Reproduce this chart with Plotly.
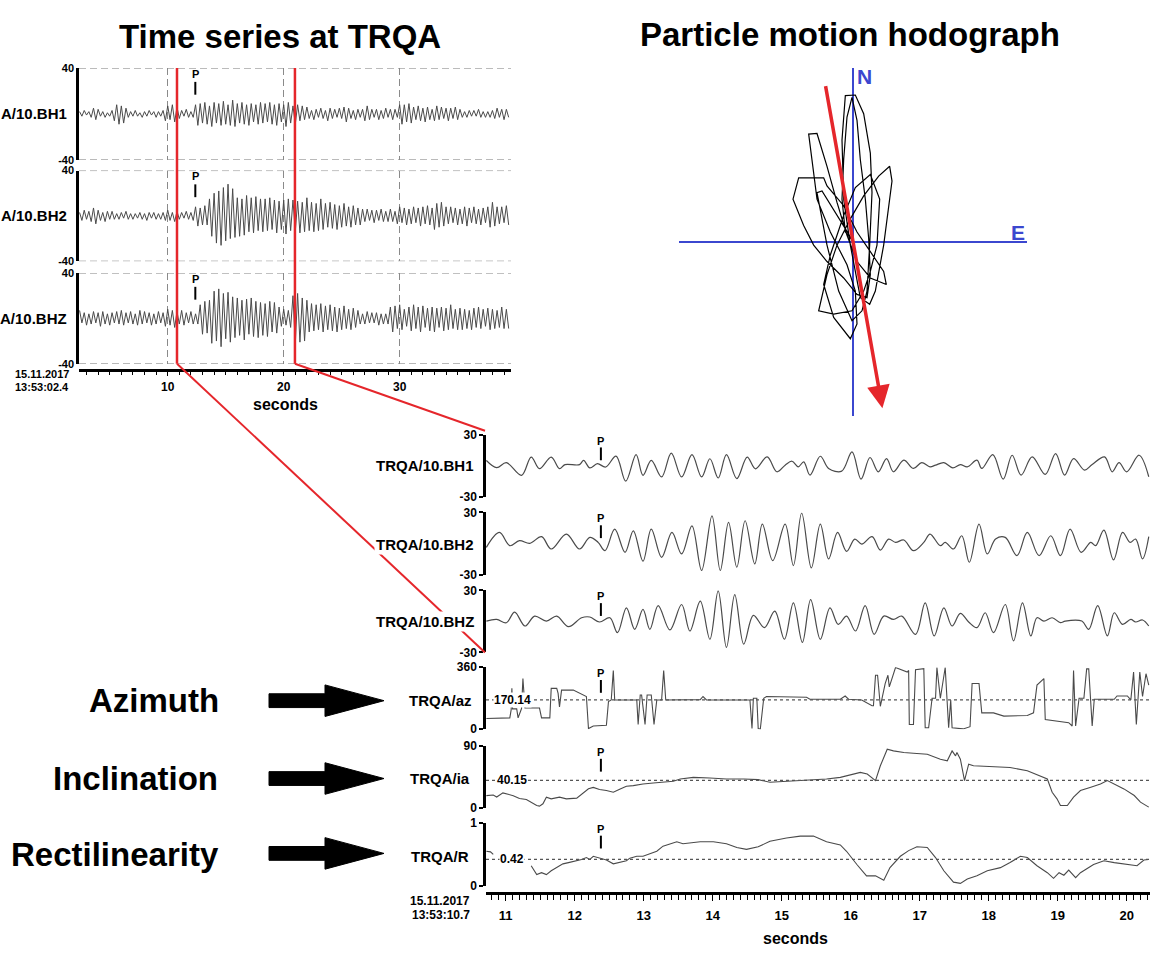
import math
import plotly.graph_objects as go

W, H = 1156, 955
FONT = "Liberation Sans, Arial, Helvetica, sans-serif"
TRACE = "#4a4a4a"
RED = "#e5262b"
BLUE = "#3b47cf"


def fx(x):
    return x / W


def fy(y):
    return 1 - y / H


# ---------------------------------------------------------------- data
P_TIME = 12.38
WINDOW = [10.8, 20.97]          # selected window in the overview (s)
TOP_T0, TOP_DT = 2.4, 0.2       # sampling of the overview traces
TOP_CHANNELS = ["A/10.BH1", "A/10.BH2", "A/10.BHZ"]
LOW_CHANNELS = ["TRQA/10.BH1", "TRQA/10.BH2", "TRQA/10.BHZ"]
ATTR_CHANNELS = ["TRQA/az", "TRQA/ia", "TRQA/R"]

TOP_BH1 = [
    2, -2, 3, -1, 2, -3, 5, -5, 4, -2, 2, -3, 1, -2, 3,
    -6, 8, -9, 7, -8, 5,
    -3, 2, -2, 3, -2, 1, -3, 2, -2, 3, -1, 2, -3, 2, -2, 3,
    -6, 7, -5, 8, -7, 6, -4,
    3, -2, 4, -3, 2, -3,
    8, -10, 9, -8, 10, -9, 7, -11, 10, -8, 9, -10, 11, -9, 8, -10, 12, -11, 9, -8, 10, -9, 8, -10, 9, -7, 8, -9, 10,
    -8, 9, -7, 10, -9, 8, -10, 9, -7, 8, -11, 10, -8, 7, -9, 8, -6, 7, -5, 6,
    -4, 3, -5, 4, -3, 5, -4, 3, -6, 5, -4, 4, -3, 5, -4, 6, -7, 5, -4, 3, -5, 4, -3, 4, -6, 7, -5, 4, -3, 4, -5, 3, -4, 5, -3, 4, -5, 4, -3,
    8, -9, 8, -7, 9, -8,
    6, -5, 7, -6, 5, -7, 6, -5, 4, -6, 7, -5, 6, -4, 5, -6, 5, -4, 6, -5, 4,
    -3, 2, -3, 3, -2, 3, -2, 4, -3, 2, -3, 2, -3, 3,
    -4, 5, -3, 4, -5, 4, -3,
]
TOP_BH2 = [
    3, -4, 5, -3, 4, -5, 7, -7, 5, -4, 3, -5, 4, -3, 4,
    -3, 2, -3, 3, -2, 4, -3, 2, -3, 2, -2, 3, -3, 2, -4, 3, -2, 3, -3, 2, -3, 3,
    -4, 5, -4, 3, -5, 4, -3,
    3, -2, 4, -3, 3, -4,
    8, -9, 7, -8, 9, -8,
    15, -18, 20, -24, 22, -26, 25, -22, 28, -20, 24, -19,
    16, -18, 15, -17, 18, -14, 16, -15, 17, -13, 15,
    -14, 15, -13, 16, -12, 14, -15, 13, -12, 14, -16, 15, -13, 14,
    -14, 13, -15, 12, -14, 16, -13, 12, -14, 11, -13, 15, -12, 11, -10, 12, -11, 10, -12, 9, -10, 11, -9, 8, -10, 9, -8, 7, -8,
    6, -5, 6, -4, 5, -6, 5, -4, 6, -5, 4, -5, 6, -5, 4,
    -7, 8, -6, 7, -8, 6, -7, 8, -6, 7, -9, 8, -7, 9, -8, 7, -12, 11, -10, 12, -9, 8, -7, 8, -6, 7, -8, 6, -7, 8,
    -9, 7, -6, 8, -7, 6, -8, 7, -6, 8, -10, 12, -9, 8, -7, 8, -6, 9, -8,
]
TOP_BHZ = [
    7, -4, 5, -6, 4, -5, 6, -4, 5, -7, 6, -5, 4, -6, 5, -4, 6, -5, 7, -6, 5, -4, 6, -5, 4, -6, 7, -5, 6, -4, 5, -6, 4, -5, 6, -4, 5,
    -7, 8, -6, 7, -8, 6, -5, 7, -6,
    5, -4, 6, -5, 4, -5,
    12, -14, 15, -13, 16,
    -22, 24, -20, 26, -25, 22, -18, 23, -21, 19,
    -17, 18, -15, 16, -19, 17, -14, 18, -16, 15, -17,
    14, -15, 13, -16, 15, -12, 14, -13, 10,
    -7, 8, -6, 7, -8,
    20, -23, 22, -21, 18, -20, 16,
    -12, 13, -11, 12, -10, 13, -12, 11, -10, 12, -11, 10, -12, 9, -10, 11, -9, 8, -10, 9, -8, 7,
    -5, 4, -5, 6, -4, 5, -4, 5, -6, 4, -5, 4, -5,
    10, -12, 11, -9, 12, -10, 8, -7,
    10, -11, 12, -9, 10, -12, 11, -8, 9, -11, 10, -12, 9, -8, 10, -11, 9, -10, 12, -9, 8, -10,
    9, -10, 8, -9, 7, -10, 9, -8, 10, -9, 8, -7, 9, -10, 8, -9, 7, -8, 10, -9, 8, -9,
]

LOW_BH1_T = [10.72, 10.87, 11.01, 11.23, 11.37, 11.49, 11.66, 11.78, 11.86, 12.07, 12.13, 12.22, 12.33, 12.45,
             12.60, 12.74, 12.89, 12.99, 13.11, 13.26, 13.40, 13.55, 13.70, 13.84, 13.96, 14.08, 14.20, 14.35,
             14.50, 14.62, 14.79, 14.93, 15.05, 15.15, 15.24, 15.32, 15.41, 15.56, 15.68, 15.87, 16.02, 16.15,
             16.28, 16.40, 16.52, 16.62, 16.77, 16.91, 17.03, 17.15, 17.23, 17.35, 17.48, 17.59, 17.69, 17.83,
             17.90, 18.06, 18.21, 18.34, 18.47, 18.63, 18.82, 18.97, 19.10, 19.23, 19.39, 19.50, 19.68, 19.79,
             19.89, 20.00, 20.18, 20.32]
LOW_BH1_V = [5.1, -1.9, 2.9, -9.3, 8.3, -2.9, 8.3, -2.9, 1.0, 1.0, 5.1, -2.2, 1.9, -1.3,
             9.3, -15.0, 10.6, -9.3, 5.1, -10.9, 12.2, -10.9, 10.6, -10.9, 6.7, -11.9, 10.6, -12.5,
             8.3, -3.0, 8.5, -5.9, 0.5, 4.3, -1.1, 3.7, -9.1, 9.1, -2.7, -5.3, 13.3, -13.0,
             7.9, -5.9, 6.9, -5.9, 5.3, -2.7, 3.0, -1.1, 0.5, 3.0, -2.1, 1.1, -1.1, 5.3,
             -2.7, 10.7, -13.0, 10.1, -9.1, 8.5, -8.5, 11.7, -9.1, 6.9, -4.3, 1.1, 8.5, -5.9,
             3.0, -5.9, 10.1, -10.7]

LOW_BH2_T = [10.72, 10.91, 11.06, 11.20, 11.35, 11.52, 11.66, 11.88, 12.07, 12.22, 12.34, 12.44, 12.58, 12.73,
             12.85, 12.99, 13.11, 13.26, 13.41, 13.55, 13.70, 13.84, 13.99, 14.11, 14.23, 14.35, 14.47, 14.61,
             14.72, 14.87, 15.05, 15.17, 15.29, 15.43, 15.56, 15.68, 15.81, 15.94, 16.06, 16.16, 16.31, 16.43,
             16.55, 16.65, 16.77, 16.91, 17.06, 17.15, 17.30, 17.37, 17.49, 17.61, 17.72, 17.86, 17.98, 18.10,
             18.24, 18.41, 18.56, 18.73, 18.90, 19.04, 19.18, 19.34, 19.48, 19.55, 19.67, 19.81, 19.94, 20.05,
             20.13, 20.23, 20.32]
LOW_BH2_V = [-3.7, 10.7, -2.1, 2.7, 0.2, 6.6, -5.3, 9.1, -5.3, 5.9, 1.1, -6.9, 13.9, -8.5,
             12.3, -17.1, 13.9, -13.3, 10.7, -10.1, 17.1, -26.1, 26.8, -26.1, 20.4, -22.9, 22.0, -19.7,
             18.8, -16.5, 18.8, -21.3, 29.5, -23.6, 18.8, -14.9, 10.7, -7.5, 4.3, -0.5, 6.6, -6.3,
             4.3, 1.1, 3.4, -6.9, 1.1, 9.1, -2.1, 1.1, -5.3, 7.5, -18.1, 18.8, -10.1, 4.3,
             5.9, -11.7, 10.7, -11.7, 7.5, -11.7, 13.9, -8.5, 1.1, -2.1, 13.0, -15.9, 10.7, 1.1,
             4.3, -14.9, 6.6]

LOW_BHZ_T = [10.72, 10.87, 11.01, 11.13, 11.28, 11.42, 11.59, 11.74, 11.91, 12.10, 12.22, 12.36, 12.51, 12.62,
             12.75, 12.87, 12.99, 13.09, 13.21, 13.38, 13.55, 13.67, 13.82, 13.96, 14.08, 14.20, 14.32, 14.45,
             14.59, 14.75, 14.90, 15.04, 15.17, 15.30, 15.42, 15.56, 15.70, 15.82, 15.94, 16.07, 16.21, 16.34,
             16.48, 16.62, 16.74, 16.94, 17.08, 17.21, 17.35, 17.47, 17.59, 17.71, 17.83, 17.95, 18.07, 18.24,
             18.36, 18.49, 18.61, 18.70, 18.80, 18.92, 19.04, 19.11, 19.35, 19.45, 19.58, 19.72, 19.82, 19.94,
             20.06, 20.13, 20.23, 20.32]
LOW_BHZ_V = [0.3, 1.9, -1.3, 8.9, -4.5, 5.1, 0.3, 5.1, -5.1, 3.5, 4.2, -0.6, 3.5, -10.9,
             13.1, -7.7, 11.5, -7.7, 15.3, -8.3, 16.3, -9.3, 19.5, -17.3, 29.5, -25.2, 25.9, -22.0,
             5.8, -6.0, 9.9, -17.3, 17.9, -20.4, 21.1, -17.3, 13.1, -2.9, 5.1, -9.3, 15.3, -12.5,
             5.1, 1.9, 5.1, -12.5, 17.9, -14.1, 13.1, -4.5, 7.7, -0.6, -6.1, 8.3, -10.9, 16.3,
             -18.8, 17.9, -14.1, 3.5, 0.3, 3.5, -1.3, 0.3, 0.3, -7.7, 15.3, -14.1, 8.3, -2.9,
             1.9, -0.6, 1.3, -4.5]

AZ_T = [10.72, 11.06, 11.08, 11.09, 11.10, 11.16, 11.18, 11.23, 11.25, 11.28, 11.49, 11.52, 11.64, 11.66,
        11.74, 11.76, 11.78, 11.81, 11.98, 12.17, 12.20, 12.27, 12.46, 12.49, 12.53, 12.56, 12.58, 12.90,
        12.92, 12.95, 12.97, 13.02, 13.05, 13.11, 13.15, 13.19, 13.26, 13.29, 13.32, 13.82, 13.86, 13.91,
        14.54, 14.57, 14.59, 14.64, 14.66, 14.69, 14.74, 14.78, 15.36, 15.41, 15.85, 15.92, 15.97, 16.16,
        16.31, 16.33, 16.36, 16.39, 16.43, 16.50, 16.54, 16.56, 16.65, 16.82, 16.84, 16.85, 16.91, 16.94,
        17.06, 17.08, 17.13, 17.18, 17.23, 17.25, 17.30, 17.37, 17.42, 17.45, 17.47, 17.53, 17.63, 17.73,
        17.76, 17.86, 17.90, 18.07, 18.22, 18.56, 18.65, 18.70, 18.80, 18.82, 19.04, 19.16, 19.21, 19.23,
        19.26, 19.31, 19.38, 19.42, 19.45, 19.50, 19.53, 19.82, 19.86, 20.01, 20.06, 20.10, 20.14, 20.19,
        20.23, 20.28, 20.32]
AZ_V = [62, 66, 114, 237, 118, 118, 66, 120, 294, 123, 123, 66, 66, 237,
        237, 208, 130, 227, 227, 190, 4, 19, 23, 161, 170, 341, 170, 170,
        28, 199, 199, 28, 199, 199, 28, 170, 170, 341, 170, 172, 190, 170,
        170, 4, 180, 180, 4, 0, 180, 190, 186, 174, 174, 193, 174, 170,
        136, 136, 313, 313, 133, 265, 313, 246, 358, 332, 341, 28, 28, 345,
        351, 9, 9, 180, 180, 358, 180, 358, 9, 170, 9, 5, 2, 15,
        265, 265, 95, 95, 76, 80, 95, 256, 294, 57, 47, 38, 19, 341,
        19, 180, 180, 350, 350, 19, 174, 174, 193, 193, 170, 332, 28, 332,
        190, 322, 256]

IA_T = [10.72, 10.82, 10.87, 10.96, 11.11, 11.20, 11.30, 11.37, 11.45, 11.49, 11.54, 11.59, 11.66, 11.78,
        11.88, 12.03, 12.10, 12.13, 12.20, 12.27, 12.36, 12.46, 12.56, 12.66, 12.75, 12.85, 12.99, 13.14,
        13.24, 13.43, 13.53, 13.62, 13.72, 13.96, 14.20, 14.45, 14.66, 14.83, 14.98, 15.17, 15.41, 15.65,
        15.85, 15.99, 16.14, 16.24, 16.36, 16.43, 16.53, 16.62, 16.77, 16.91, 17.11, 17.30, 17.40, 17.47,
        17.52, 17.54, 17.59, 17.65, 17.71, 17.78, 18.07, 18.31, 18.56, 18.75, 18.85, 18.92, 18.99, 19.04,
        19.14, 19.23, 19.33, 19.48, 19.62, 19.72, 19.82, 19.96, 20.11, 20.20, 20.32]
IA_V = [18, 19, 16, 22, 18, 14, 12.5, 8.6, 3.8, 2.9, 6.2, 15.8, 13.4, 15.8,
        13.4, 14.4, 20.6, 22.5, 28, 30, 27, 25.4, 23, 27.8, 31.6, 32.6, 35, 36.4,
        37.4, 38.8, 42.2, 43.1, 44.5, 43.6, 42.2, 42.2, 41.2, 37.4, 38.3, 39.8, 41.2, 42.2,
        44.5, 47.9, 51.7, 49.3, 39.8, 61.3, 85.3, 82.9, 80.5, 79.5, 78.1, 70.9, 68.5, 82.9,
        75.7, 80.5, 70.9, 39.8, 63.7, 61.3, 59.9, 58.9, 54.1, 46.9, 42.2, 23.0, 13.4, 3.8,
        3.8, 15.8, 25.4, 30.2, 35.0, 39.8, 35.0, 27.8, 18.2, 8.6, 1.4]

R_T = [10.72, 10.78, 10.82, None, 11.37, 11.45, 11.52, 11.59, 11.66, 11.74, 11.83, 11.91, 12.03, 12.10,
       12.17, 12.22, 12.27, 12.36, 12.46, 12.56, 12.66, 12.75, 12.80, 12.90, 12.99, 13.09, 13.19, 13.28,
       13.38, 13.48, 13.57, 13.67, 13.82, 14.01, 14.20, 14.35, 14.49, 14.66, 14.83, 15.07, 15.27, 15.46,
       15.65, 15.85, 15.94, 16.09, 16.23, 16.36, 16.48, 16.57, 16.72, 16.84, 16.96, 17.11, 17.23, 17.35,
       17.49, 17.59, 17.69, 17.83, 17.98, 18.17, 18.31, 18.46, 18.56, 18.70, 18.85, 18.94, 19.02, 19.09,
       19.16, 19.26, 19.33, 19.52, 19.67, 19.82, 20.01, 20.15, 20.25, 20.32]
R_V = [0.55, 0.54, 0.50, None, 0.32, 0.18, 0.21, 0.18, 0.24, 0.29, 0.35, 0.37, 0.40, 0.42,
       0.45, 0.42, 0.47, 0.44, 0.41, 0.35, 0.37, 0.40, 0.44, 0.47, 0.47, 0.51, 0.55, 0.63,
       0.66, 0.70, 0.67, 0.68, 0.70, 0.70, 0.67, 0.61, 0.58, 0.62, 0.71, 0.76, 0.79, 0.79,
       0.70, 0.65, 0.55, 0.34, 0.16, 0.16, 0.09, 0.29, 0.47, 0.56, 0.62, 0.61, 0.45, 0.24,
       0.06, 0.04, 0.11, 0.16, 0.24, 0.29, 0.37, 0.47, 0.45, 0.32, 0.21, 0.12, 0.21, 0.17,
       0.25, 0.13, 0.21, 0.34, 0.40, 0.37, 0.34, 0.32, 0.41, 0.42]

AZ_MEAN, IA_MEAN, R_MEAN = 170.14, 40.15, 0.42

HODO_E = [0, -4.8, -9.3, -10.8, -7.8, -4.3, -0.3, 2.7, 4.2, 5.0, 5.7, 5.2, 3.2, 0.7, -2.3, -3.3, -2.8,
          -0.8, 2.2, 5.0, 6.7, 9.2, 11.7, 11.0, 7.7, 3.2, -0.8, -4.8, -7.8, -10.3, -5.8, -0.3, 3.2,
          5.2, 7.2, 8.0, 5.2, 0.7, -2.8, -6.8, -8.8, -5.8, -0.8, 1.2, 0.7, -1.8, -6.8, -10.8, -13.3,
          -10.8, -7.8, -4.8, -1.8, 1.2, 5.2, 10.0, 9.2, 5.2, 1.2, -2.8, -7.8, -8.8, -16.3, -18.0,
          -14.8, -11.8, -7.8, -2.8, 1.2, 4.2, 5.2, 4.7, 3.7, 2.2, 1.2, -0.3, -1.8, -2.8, -3.3, -2.3, 0]
HODO_N = [0.1, 7.9, 15.4, 14.9, -1.1, -15.1, -24.1, -21.1, -15.1, -1.1, 14.9, 26.9, 38.9, 44.6, 44.4,
          30.9, 12.9, -1.1, -17.1, -19.1, -15.1, -1.1, 18.4, 22.9, 19.9, 13.9, 6.9, -1.1, -10.1, -21.1,
          -22.1, -21.1, -15.1, -9.1, -1.1, 12.9, 20.4, 16.4, 7.9, -4.1, -13.1, -23.1, -29.6, -25.1, -15.1,
          -7.1, 2.9, 12.9, 32.7, 32.9, 22.9, 11.9, 1.9, -6.1, -11.1, -13.1, -9.1, -3.1, 2.9, 10.9, 16.9,
          19.4, 19.4, 12.9, 4.9, -1.1, -6.1, -11.1, -16.1, -17.1, -10.1, 0.9, 12.9, 24.9, 36.9, 43.9,
          37.9, 24.9, 12.9, 2.9, 0.1]

POL_AZIMUTH = 170.14
ARROW_BACK, ARROW_FRONT = 48.5, 51.5

# ---------------------------------------------------------------- geometry
TOP_X_DOM = [fx(79), fx(511)]
TOP_X_RANGE = [2.35, 39.6]
TOP_Y_PIX = [(62, 155), (166, 258), (270, 362)]
TOP_LABEL_Y = [108, 212, 316]

LOW_X_DOM = [fx(486), fx(1150)]
LOW_X_RANGE = [10.715, 20.338]
LOW_Y_PIX = [(434, 497), (513, 576), (592, 655), (670, 733), (750, 813), (828, 892)]
LOW_RANGES = [[-30, 30], [-30, 30], [-30, 30], [0, 360], [0, 90], [0, 1]]
LOW_TICKS = [[-30, 30], [-30, 30], [-30, 30], [0, 360], [0, 90], [0, 1]]

fig = go.Figure()

# overview traces
for k, vals in enumerate([TOP_BH1, TOP_BH2, TOP_BHZ]):
    tt = [TOP_T0 + i * TOP_DT for i in range(len(vals))]
    fig.add_trace(go.Scatter(x=tt, y=vals, mode="lines", line=dict(color=TRACE, width=1),
                             xaxis="x", yaxis="y" if k == 0 else f"y{k + 1}", hoverinfo="skip"))

# zoomed waveforms
for k, (tt, vv) in enumerate([(LOW_BH1_T, LOW_BH1_V), (LOW_BH2_T, LOW_BH2_V), (LOW_BHZ_T, LOW_BHZ_V)]):
    fig.add_trace(go.Scatter(x=tt, y=vv, mode="lines",
                             line=dict(color=TRACE, width=1.2, shape="spline", smoothing=1.0),
                             xaxis="x2", yaxis=f"y{k + 4}", hoverinfo="skip"))
# attributes
for k, (tt, vv) in enumerate([(AZ_T, AZ_V), (IA_T, IA_V), (R_T, R_V)]):
    fig.add_trace(go.Scatter(x=tt, y=vv, mode="lines", line=dict(color=TRACE, width=1.1),
                             connectgaps=False, xaxis="x2", yaxis=f"y{k + 7}", hoverinfo="skip"))

# hodograph
fig.add_trace(go.Scatter(x=HODO_E, y=HODO_N, mode="lines", line=dict(color="black", width=1.2),
                         xaxis="x3", yaxis="y10", hoverinfo="skip"))


def tlabel(v):
    return f"{v:g}".replace("\u2212", "-")


layout = dict(
    width=W, height=H, margin=dict(l=0, r=0, t=0, b=0),
    paper_bgcolor="white", plot_bgcolor="white", showlegend=False,
    font=dict(family=FONT, color="black"),
)

layout["xaxis"] = dict(
    domain=TOP_X_DOM, range=TOP_X_RANGE, anchor="free", position=fy(368),
    showline=True, linecolor="black", linewidth=2.5,
    tickmode="linear", tick0=0, dtick=10, ticks="outside", ticklen=5, tickwidth=1.2, tickcolor="black",
    tickfont=dict(family=FONT, size=12, color="black", weight="bold"),
    showgrid=True, gridcolor="#8a8a8a", gridwidth=1, griddash="7px,4px",
    zeroline=False,
    minor=dict(dtick=1, tick0=0, ticks="outside", ticklen=4, tickwidth=1, tickcolor="black", showgrid=False),
)
for k, (y0, y1) in enumerate(TOP_Y_PIX):
    name = "yaxis" if k == 0 else f"yaxis{k + 1}"
    layout[name] = dict(
        domain=[fy(y1), fy(y0)], range=[-40, 40], anchor="x",
        showline=True, linecolor="black", linewidth=2.5,
        tickmode="array", tickvals=[-40, 40], ticktext=[tlabel(v) for v in [-40, 40]], ticks="",
        tickfont=dict(family=FONT, size=11, color="black", weight="bold"),
        showgrid=False, zeroline=False,
    )

layout["xaxis2"] = dict(
    domain=LOW_X_DOM, range=LOW_X_RANGE, anchor="free", position=fy(899),
    showline=True, linecolor="black", linewidth=2.5,
    tickmode="linear", tick0=0, dtick=1, ticks="outside", ticklen=6, tickwidth=1.2, tickcolor="black",
    ticklabelstandoff=4,
    tickfont=dict(family=FONT, size=13, color="black", weight="bold"), showgrid=False, zeroline=False,
    minor=dict(dtick=0.1, tick0=0, ticks="outside", ticklen=5, tickwidth=1, tickcolor="black", showgrid=False),
)
for k, (y0, y1) in enumerate(LOW_Y_PIX):
    layout[f"yaxis{k + 4}"] = dict(
        domain=[fy(y1), fy(y0)], range=LOW_RANGES[k], anchor="x2",
        showline=True, linecolor="black", linewidth=2.5,
        tickmode="array", tickvals=LOW_TICKS[k], ticktext=[tlabel(v) for v in LOW_TICKS[k]],
        ticks="outside", ticklen=4, tickwidth=1.5, tickcolor="black",
        tickfont=dict(family=FONT, size=12, color="black", weight="bold"),
        showgrid=False, zeroline=False,
    )

layout["xaxis3"] = dict(
    domain=[fx(679), fx(1027)], range=[-52.2, 52.2], anchor="y10",
    showgrid=False, showticklabels=False, showline=False, ticks="",
    zeroline=True, zerolinecolor=BLUE, zerolinewidth=1.5,
)
layout["yaxis10"] = dict(
    domain=[fy(415), fy(62)], range=[-53.1, 52.8], anchor="x3",
    showgrid=False, showticklabels=False, showline=False, ticks="",
    zeroline=True, zerolinecolor=BLUE, zerolinewidth=1.5,
)

fig.update_layout(**layout)

shapes = []
annotations = []


def top_x_paper(t):
    return TOP_X_DOM[0] + (t - TOP_X_RANGE[0]) / (TOP_X_RANGE[1] - TOP_X_RANGE[0]) * (TOP_X_DOM[1] - TOP_X_DOM[0])


# dashed limits of the overview panels (at the +/-40 ticks)
for k in range(3):
    ya = "y" if k == 0 else f"y{k + 1}"
    for v in [-40, 40]:
        shapes.append(dict(type="line", xref="x domain", yref=ya, x0=0, x1=1, y0=v, y1=v, layer="below",
                           line=dict(color="#8a8a8a", width=1, dash="7px,4px")))

# red window lines
for t, end_y in zip(WINDOW, [655, 430]):
    xp = top_x_paper(t)
    shapes.append(dict(type="line", xref="paper", yref="paper", x0=xp, x1=xp, y0=fy(62), y1=fy(362),
                       line=dict(color=RED, width=2.5)))
    shapes.append(dict(type="line", xref="paper", yref="paper", x0=xp, y0=fy(362), x1=fx(485), y1=fy(end_y),
                       line=dict(color=RED, width=2)))

# P picks
for k in range(3):
    yd = "y domain" if k == 0 else f"y{k + 1} domain"
    h = TOP_Y_PIX[k][1] - TOP_Y_PIX[k][0]
    shapes.append(dict(type="line", xref="x", yref=yd, x0=P_TIME, x1=P_TIME, y0=1 - 14 / h, y1=1 - 27 / h,
                       line=dict(color="black", width=2)))
    annotations.append(dict(xref="x", yref=yd, x=P_TIME, y=1 - 6 / h, text="<b>P</b>", showarrow=False,
                            font=dict(size=11, color="black", family=FONT), xanchor="center", yanchor="middle"))
for k in range(6):
    yd = f"y{k + 4} domain"
    h = LOW_Y_PIX[k][1] - LOW_Y_PIX[k][0]
    shapes.append(dict(type="line", xref="x2", yref=yd, x0=P_TIME, x1=P_TIME, y0=1 - 13 / h, y1=1 - 26 / h,
                       line=dict(color="black", width=2)))
    annotations.append(dict(xref="x2", yref=yd, x=P_TIME, y=1 - 6 / h, text="<b>P</b>", showarrow=False,
                            font=dict(size=11, color="black", family=FONT), xanchor="center", yanchor="middle"))

# mean (dotted) lines with labels
for k, (m, lab) in enumerate([(AZ_MEAN, "170.14"), (IA_MEAN, "40.15"), (R_MEAN, "0.42")]):
    ya = f"y{k + 7}"
    shapes.append(dict(type="line", xref="x2 domain", yref=ya, x0=0, x1=1, y0=m, y1=m,
                       line=dict(color="#555555", width=1.2, dash="dot")))
    annotations.append(dict(xref="paper", yref=ya, x=fx(512), y=m, text=f"<b>{lab}</b>", showarrow=False,
                            font=dict(size=12, color="black", family=FONT), bgcolor="white",
                            xanchor="center", yanchor="middle", borderpad=0))

# black arrows on the left
for yc in [704, 783, 859]:
    pts = [(269, yc - 7), (325, yc - 7), (325, yc - 16), (384, yc), (325, yc + 16), (325, yc + 7), (269, yc + 7)]
    path = "M " + " L ".join(f"{fx(a):.5f},{fy(b):.5f}" for a, b in pts) + " Z"
    shapes.append(dict(type="path", xref="paper", yref="paper", path=path,
                       fillcolor="black", line=dict(color="black", width=1)))

fig.update_layout(shapes=shapes)


def txt(x, y, s, size, anchor="center", color="black", bg=None):
    d = dict(xref="paper", yref="paper", x=fx(x), y=fy(y), text=s, showarrow=False,
             font=dict(size=size, color=color, family=FONT), xanchor=anchor, yanchor="middle")
    if bg:
        d["bgcolor"] = bg
        d["borderpad"] = 1
    annotations.append(d)


txt(280, 30, "<b>Time series at TRQA</b>", 33)
txt(850, 28, "<b>Particle motion hodograph</b>", 33)

for lab, yc in zip(TOP_CHANNELS, TOP_LABEL_Y):
    txt(69, yc, f"<b>{lab}</b>", 15, anchor="right")
txt(71, 372, "<b>15.11.2017</b>", 11, anchor="right")
txt(71, 386, "<b>13:53:02.4</b>", 11, anchor="right")
txt(285, 403, "<b>seconds</b>", 16)

for lab, yc in zip(LOW_CHANNELS, [465, 545, 624]):
    txt(476, yc, f"<b>{lab}</b>", 15, anchor="right", bg="white")
for lab, yc in zip(ATTR_CHANNELS, [704, 783, 862]):
    txt(440, yc, f"<b>{lab}</b>", 15, bg="white")
txt(472, 907, "<b>15.11.2017</b>", 12, anchor="right")
txt(472, 922, "<b>13:53:10.7</b>", 12, anchor="right")
txt(795, 945, "<b>seconds</b>", 16)

txt(221, 704, "<b>Azimuth</b>", 33, anchor="right")
txt(220, 783, "<b>Inclination</b>", 33, anchor="right")
txt(221, 860, "<b>Rectilinearity</b>", 33, anchor="right")

txt(864, 71, "<b>N</b>", 21, color=BLUE)
txt(1018, 229, "<b>E</b>", 21, color=BLUE)

# polarisation direction arrow
a = math.radians(POL_AZIMUTH)
e_end, n_end = ARROW_FRONT * math.sin(a), ARROW_FRONT * math.cos(a)
e_beg, n_beg = -ARROW_BACK * math.sin(a), -ARROW_BACK * math.cos(a)
annotations.append(dict(xref="x3", yref="y10", x=e_end, y=n_end, axref="x3", ayref="y10", ax=e_beg, ay=n_beg,
                        text="", showarrow=True, arrowhead=2, arrowsize=1.3, arrowwidth=3.5, arrowcolor=RED,
                        standoff=0, startstandoff=0))

fig.update_layout(annotations=annotations)

fig.write_html("out.html", config={"displayModeBar": False})
